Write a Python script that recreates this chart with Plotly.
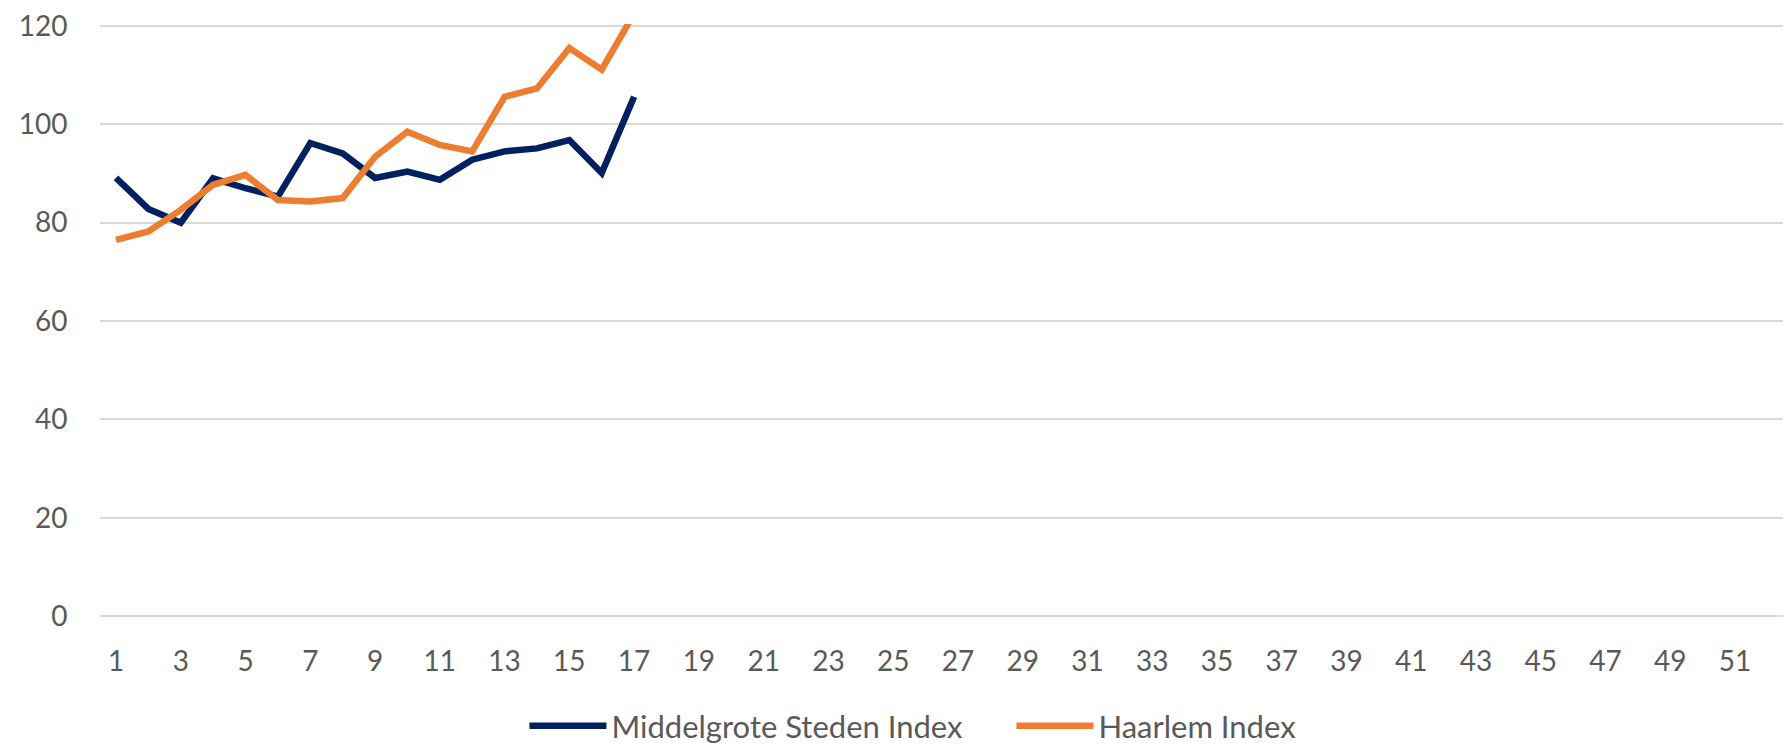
import plotly.graph_objects as go

weeks = list(range(1, 18))
middelgrote_steden = [89.1, 82.8, 80.0, 89.0, 87.0, 85.3, 96.2, 94.1, 89.1, 90.4, 88.7, 92.8, 94.5, 95.1, 96.8, 90.1, 105.6]
haarlem = [76.5, 78.2, 82.6, 87.7, 89.7, 84.6, 84.3, 85.0, 93.4, 98.5, 95.8, 94.5, 105.6, 107.3, 115.5, 111.1, 122.5]
x_ticks = list(range(1, 52, 2))
y_ticks = [0, 20, 40, 60, 80, 100, 120]

FONT = "Lato, 'Open Sans', sans-serif"
TXT = "#595959"

fig = go.Figure()
fig.add_trace(go.Scatter(x=weeks, y=middelgrote_steden, mode="lines",
                         name="Middelgrote Steden Index",
                         line=dict(color="#002060", width=6.5)))
fig.add_trace(go.Scatter(x=weeks, y=haarlem, mode="lines",
                         name="Haarlem Index",
                         line=dict(color="#ED7D31", width=6.5)))

fig.update_layout(
    width=1785, height=746,
    margin=dict(l=100, r=2, t=24, b=128, autoexpand=False),
    plot_bgcolor="white", paper_bgcolor="white",
    font=dict(family=FONT, size=28, color=TXT),
    showlegend=True,
    legend=dict(orientation="h", x=0.2522, xanchor="left", y=-0.182, yanchor="middle",
                font=dict(family=FONT, size=31, color=TXT), itemwidth=77,
                entrywidth=395, entrywidthmode="pixels",
                bgcolor="rgba(0,0,0,0)"),
)
fig.update_xaxes(range=[0.506, 52.48], tickmode="array", tickvals=x_ticks,
                 ticktext=[str(v) for v in x_ticks],
                 showgrid=False, zeroline=False, showline=False,
                 ticks="outside", ticklen=18, tickcolor="rgba(0,0,0,0)",
                 tickfont=dict(family=FONT, size=28, color=TXT))
fig.update_yaxes(range=[-0.4, 120.4], tickmode="array", tickvals=y_ticks,
                 showgrid=True, gridcolor="#D9D9D9", gridwidth=2,
                 zeroline=False, showline=False,
                 ticks="outside", ticklen=26, tickcolor="rgba(0,0,0,0)",
                 tickfont=dict(family=FONT, size=28, color=TXT))

fig.write_html("out.html", config={"displayModeBar": False},
               post_script="document.body.style.margin='0';")
